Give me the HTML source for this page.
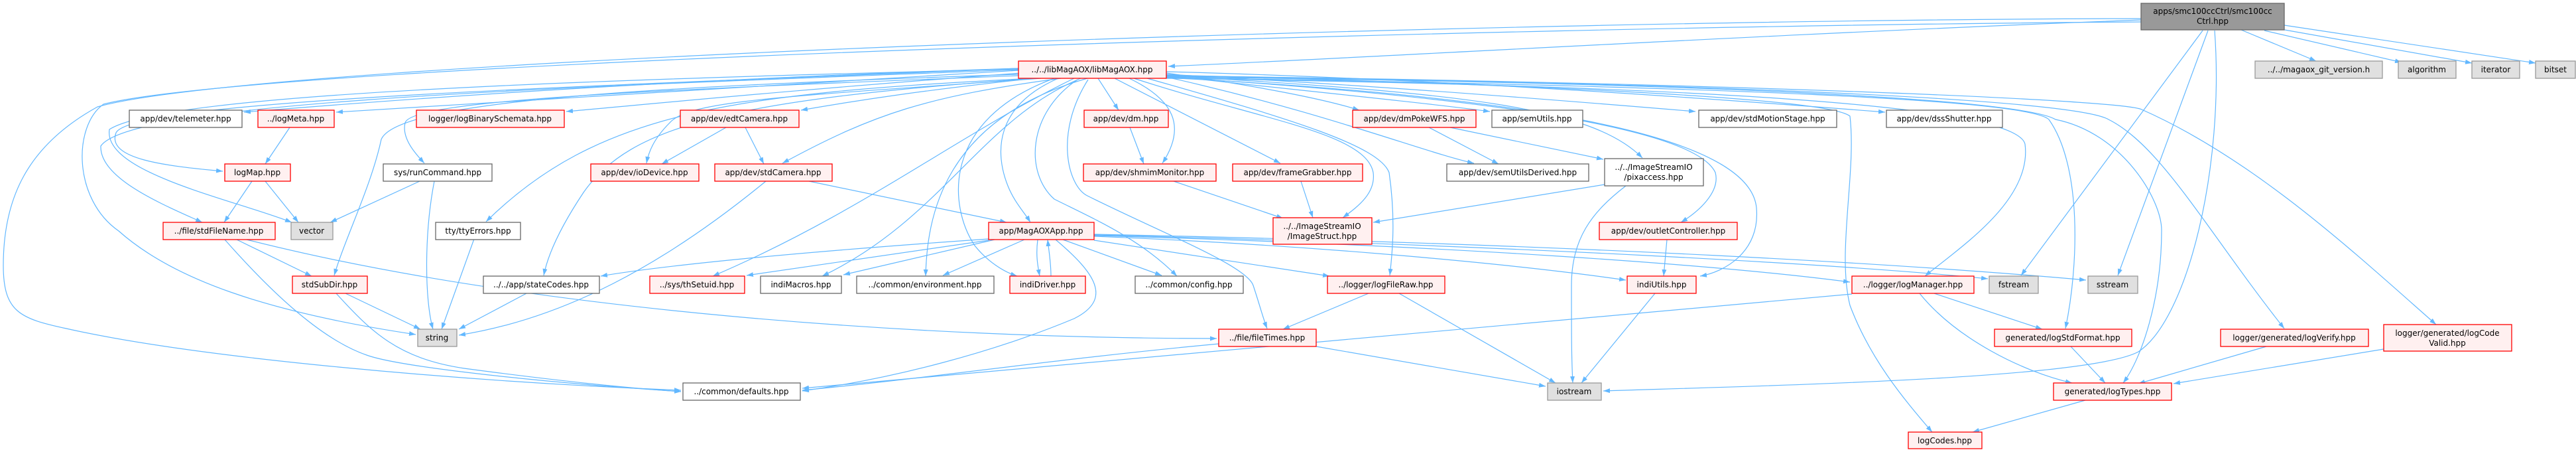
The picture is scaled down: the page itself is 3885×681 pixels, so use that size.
<!DOCTYPE html>
<html><head><meta charset="utf-8"><style>
html,body{margin:0;padding:0;background:#fff;}
svg{display:block}
text{font-family:"DejaVu Sans","Liberation Sans",sans-serif;font-size:12px;fill:#000;text-anchor:middle}
.r{fill:#fff0f0;stroke:#ff0000;stroke-width:1.3}
.w{fill:#fff;stroke:#666;stroke-width:1.3}
.g{fill:#e0e0e0;stroke:#999;stroke-width:1.3}
.t{fill:#999;stroke:#666;stroke-width:1.3}
.e path{fill:none;stroke:#63b8ff;stroke-width:1.2;marker-end:url(#a)}
</style></head><body>
<svg width="3885" height="681" viewBox="0 0 3885 681" xmlns="http://www.w3.org/2000/svg">
<defs><marker id="a" viewBox="0 0 10 7" refX="10" refY="3.5" markerWidth="10" markerHeight="7" markerUnits="userSpaceOnUse" orient="auto"><path d="M0,0 L10,3.5 L0,7 z" fill="#63b8ff"/></marker></defs>
<g class="e">
<path d="M3229,30 C2700,50 2100,85 1762,100"/>
<path d="M3380,45 L3493,92"/>
<path d="M3415,46 L3622,94"/>
<path d="M3440,44 L3728,95"/>
<path d="M3445,38 L3824,95"/>
<path d="M3322,46 L3048,415"/>
<path d="M3330,46 L3194,415"/>
<path d="M3340,46 C3355,250 3300,480 3225,530 C3150,570 2700,580 2418,589"/>
<path d="M3229,28 C2200,30 400,90 147,161 C40,220 5,300 5,400 C5,470 30,480 100,495 C300,540 700,575 1027,588"/>
<path d="M3229,33 C2200,40 400,95 156,157 C110,190 110,300 179,348 C260,420 400,470 627,504"/>
<path d="M1536,103 C1000,120 600,150 368,169"/>
<path d="M1536,106 C1100,130 800,150 507,169"/>
<path d="M1540,110 C1200,135 1000,155 854,168"/>
<path d="M1560,118 C1400,135 1300,150 1208,166"/>
<path d="M1656,118 L1687,166"/>
<path d="M1759,110 C1900,130 2000,150 2050,166"/>
<path d="M1759,114 C1950,135 2150,155 2247,168"/>
<path d="M1759,112 C2100,130 2400,155 2557,168"/>
<path d="M1759,108 C2200,120 2600,150 2843,169"/>
<path d="M1536,103 C900,130 200,150 175,200 C160,240 250,250 336,258"/>
<path d="M1536,104 C900,120 250,140 165,195 C155,260 350,300 440,335"/>
<path d="M1536,105 C900,130 200,150 152,220 C150,270 250,310 305,335"/>
<path d="M1536,112 C1000,130 600,150 575,210 C560,280 520,360 504,415"/>
<path d="M1536,114 C1000,135 620,150 611,185 C605,210 630,235 640,246"/>
<path d="M1560,118 C1100,140 900,170 733,334"/>
<path d="M1565,118 C1100,150 950,190 880,290 C840,350 825,390 820,415"/>
<path d="M1570,118 C1200,145 1040,150 1010,185 C985,210 978,230 975,246"/>
<path d="M1600,118 C1400,145 1320,170 1180,246"/>
<path d="M1620,118 C1450,200 1300,320 1075,416"/>
<path d="M1630,118 C1480,180 1420,330 1240,416"/>
<path d="M1640,118 C1420,180 1398,330 1396,416"/>
<path d="M1596,118 C1500,160 1500,230 1520,280 C1530,305 1545,320 1554,335"/>
<path d="M1590,118 C1420,180 1430,310 1470,370 C1490,395 1515,410 1534,416"/>
<path d="M1625,120 C1550,170 1545,260 1590,300 C1650,330 1720,360 1775,416"/>
<path d="M1641,120 C1590,200 1610,280 1640,295 C1750,350 1880,400 1890,430 C1900,460 1905,480 1911,495"/>
<path d="M1703,118 C1770,150 1790,190 1753,246"/>
<path d="M1681,118 L1931,246"/>
<path d="M1710,118 C1900,180 2060,200 2071,260 C2075,290 2050,310 2025,328"/>
<path d="M1730,118 C1950,180 2080,220 2095,260 C2105,330 2100,380 2096,415"/>
<path d="M1759,116 C2000,170 2150,230 2223,246"/>
<path d="M1759,114 C2200,140 2400,160 2477,238"/>
<path d="M1759,116 C2300,150 2560,200 2587,260 C2595,290 2560,320 2535,335"/>
<path d="M1759,117 C2400,150 2640,220 2649,313 C2655,380 2600,410 2564,416"/>
<path d="M1759,118 C2600,130 3040,160 3054,217 C3065,300 2960,370 2903,416"/>
<path d="M1759,117 C2600,130 3060,150 3090,180 C3140,250 3135,400 3115,495"/>
<path d="M1759,116 C2600,125 3050,150 3100,180 C3200,200 3260,300 3260,347 C3260,450 3230,540 3202,577"/>
<path d="M1759,115 C2600,125 3130,150 3180,180 C3260,220 3330,350 3445,495"/>
<path d="M1759,114 C2600,125 3200,150 3230,165 C3400,240 3550,380 3674,489"/>
<path d="M1759,113 C2400,130 2760,150 2790,175 C2800,260 2770,380 2790,460 C2820,540 2870,600 2914,651"/>
<path d="M1220,273 C1350,300 1450,320 1518,335"/>
<path d="M1155,273 C1000,400 850,480 692,505"/>
<path d="M1095,192 L998,247"/>
<path d="M1124,192 L1152,247"/>
<path d="M437,192 L400,247"/>
<path d="M380,273 L338,335"/>
<path d="M400,273 L450,335"/>
<path d="M633,273 L498,335"/>
<path d="M655,273 C640,350 640,450 653,496"/>
<path d="M715,360 L666,496"/>
<path d="M355,360 L470,416"/>
<path d="M339,361 C400,430 480,510 553,535 C600,552 800,575 1027,590"/>
<path d="M368,360 C800,470 1400,510 1835,510"/>
<path d="M521,442 L634,496"/>
<path d="M507,442 C560,500 600,540 700,555 C850,575 950,585 1027,590"/>
<path d="M794,442 L692,496"/>
<path d="M1704,192 L1725,247"/>
<path d="M1770,273 L1935,329"/>
<path d="M1962,273 L1980,328"/>
<path d="M2155,192 L2260,247"/>
<path d="M2187,192 L2418,240"/>
<path d="M2420,278 L2071,335"/>
<path d="M2452,280 C2400,320 2370,360 2370,430 C2370,500 2370,540 2372,577"/>
<path d="M2514,361 L2509,416"/>
<path d="M2496,442 L2385,577"/>
<path d="M2110,442 L2346,577"/>
<path d="M2064,442 L1935,496"/>
<path d="M1985,522 L2331,582"/>
<path d="M1838,518 C1600,540 1400,570 1210,588"/>
<path d="M1592,361 C1650,410 1680,450 1620,480 C1500,530 1350,570 1210,589"/>
<path d="M1491,360 C1200,380 1000,400 906,416"/>
<path d="M1491,362 L1126,415"/>
<path d="M1500,361 L1272,414"/>
<path d="M1545,361 L1422,415"/>
<path d="M1565,361 C1562,385 1565,400 1568,416"/>
<path d="M1585,416 C1585,395 1582,380 1580,361"/>
<path d="M1603,361 L1752,415"/>
<path d="M1650,362 L2005,416"/>
<path d="M1650,356 C2000,370 2300,400 2452,422"/>
<path d="M1650,355 C2200,370 2600,400 2790,425"/>
<path d="M1650,354 C2300,370 2800,400 2998,420"/>
<path d="M1650,353 C2400,368 2900,400 3146,422"/>
<path d="M2917,442 L3080,496"/>
<path d="M2895,442 C2950,510 3050,560 3125,577"/>
<path d="M2793,443 C2400,480 1700,540 1210,585"/>
<path d="M3123,522 L3175,577"/>
<path d="M3418,522 L3225,578"/>
<path d="M3595,526 L3278,578"/>
<path d="M3145,603 L2975,651"/>
</g>
<!-- nodes -->
<rect class="t" x="3229" y="5" width="216" height="40"/><text x="3337" y="21">apps/smc100ccCtrl/smc100cc</text><text x="3337" y="36">Ctrl.hpp</text>
<rect class="r" x="1536" y="92" width="223" height="26"/><text x="1647" y="109">../../libMagAOX/libMagAOX.hpp</text>
<rect class="g" x="3401" y="92" width="192" height="26"/><text x="3497" y="109">../../magaox_git_version.h</text>
<rect class="g" x="3617" y="92" width="87" height="26"/><text x="3660" y="109">algorithm</text>
<rect class="g" x="3728" y="92" width="72" height="26"/><text x="3764" y="109">iterator</text>
<rect class="g" x="3824" y="92" width="60" height="26"/><text x="3854" y="109">bitset</text>

<rect class="w" x="195" y="166" width="170" height="26"/><text x="280" y="183">app/dev/telemeter.hpp</text>
<rect class="r" x="389" y="166" width="115" height="26"/><text x="446" y="183">../logMeta.hpp</text>
<rect class="r" x="628" y="166" width="223" height="26"/><text x="739" y="183">logger/logBinarySchemata.hpp</text>
<rect class="r" x="1026" y="166" width="179" height="26"/><text x="1115" y="183">app/dev/edtCamera.hpp</text>
<rect class="r" x="1635" y="166" width="127" height="26"/><text x="1698" y="183">app/dev/dm.hpp</text>
<rect class="r" x="2040" y="166" width="186" height="26"/><text x="2133" y="183">app/dev/dmPokeWFS.hpp</text>
<rect class="w" x="2250" y="166" width="137" height="26"/><text x="2318" y="183">app/semUtils.hpp</text>
<rect class="w" x="2562" y="166" width="208" height="26"/><text x="2666" y="183">app/dev/stdMotionStage.hpp</text>
<rect class="w" x="2845" y="166" width="175" height="26"/><text x="2932" y="183">app/dev/dssShutter.hpp</text>

<rect class="r" x="339" y="247" width="99" height="26"/><text x="388" y="264">logMap.hpp</text>
<rect class="w" x="578" y="247" width="164" height="26"/><text x="660" y="264">sys/runCommand.hpp</text>
<rect class="r" x="891" y="247" width="163" height="26"/><text x="972" y="264">app/dev/ioDevice.hpp</text>
<rect class="r" x="1078" y="247" width="177" height="26"/><text x="1166" y="264">app/dev/stdCamera.hpp</text>
<rect class="r" x="1634" y="247" width="200" height="26"/><text x="1734" y="264">app/dev/shmimMonitor.hpp</text>
<rect class="r" x="1859" y="247" width="196" height="26"/><text x="1957" y="264">app/dev/frameGrabber.hpp</text>
<rect class="w" x="2182" y="247" width="214" height="26"/><text x="2289" y="264">app/dev/semUtilsDerived.hpp</text>
<rect class="w" x="2420" y="239" width="149" height="41"/><text x="2494" y="256">../../ImageStreamIO</text><text x="2494" y="271">/pixaccess.hpp</text>

<rect class="r" x="246" y="335" width="169" height="26"/><text x="330" y="352">../file/stdFileName.hpp</text>
<rect class="g" x="439" y="335" width="63" height="26"/><text x="470" y="352">vector</text>
<rect class="w" x="657" y="335" width="128" height="26"/><text x="721" y="352">tty/ttyErrors.hpp</text>
<rect class="r" x="1491" y="335" width="159" height="26"/><text x="1570" y="352">app/MagAOXApp.hpp</text>
<rect class="r" x="1920" y="328" width="149" height="40"/><text x="1994" y="345">../../ImageStreamIO</text><text x="1994" y="360">/ImageStruct.hpp</text>
<rect class="r" x="2412" y="335" width="208" height="26"/><text x="2516" y="352">app/dev/outletController.hpp</text>

<rect class="r" x="441" y="416" width="113" height="26"/><text x="497" y="433">stdSubDir.hpp</text>
<rect class="w" x="729" y="416" width="175" height="26"/><text x="816" y="433">../../app/stateCodes.hpp</text>
<rect class="r" x="980" y="416" width="143" height="26"/><text x="1051" y="433">../sys/thSetuid.hpp</text>
<rect class="w" x="1147" y="416" width="122" height="26"/><text x="1208" y="433">indiMacros.hpp</text>
<rect class="w" x="1292" y="416" width="207" height="26"/><text x="1395" y="433">../common/environment.hpp</text>
<rect class="r" x="1523" y="416" width="114" height="26"/><text x="1580" y="433">indiDriver.hpp</text>
<rect class="w" x="1712" y="416" width="163" height="26"/><text x="1793" y="433">../common/config.hpp</text>
<rect class="r" x="2002" y="416" width="177" height="26"/><text x="2090" y="433">../logger/logFileRaw.hpp</text>
<rect class="r" x="2454" y="416" width="104" height="26"/><text x="2506" y="433">indiUtils.hpp</text>
<rect class="r" x="2793" y="416" width="184" height="26"/><text x="2885" y="433">../logger/logManager.hpp</text>
<rect class="g" x="3000" y="416" width="74" height="26"/><text x="3037" y="433">fstream</text>
<rect class="g" x="3149" y="416" width="75" height="26"/><text x="3186" y="433">sstream</text>

<rect class="g" x="630" y="496" width="59" height="26"/><text x="659" y="513">string</text>
<rect class="r" x="1838" y="496" width="147" height="26"/><text x="1911" y="513">../file/fileTimes.hpp</text>
<rect class="r" x="3008" y="496" width="207" height="26"/><text x="3111" y="513">generated/logStdFormat.hpp</text>
<rect class="r" x="3349" y="496" width="223" height="26"/><text x="3460" y="513">logger/generated/logVerify.hpp</text>
<rect class="r" x="3595" y="489" width="193" height="40"/><text x="3691" y="506">logger/generated/logCode</text><text x="3691" y="521">Valid.hpp</text>

<rect class="w" x="1030" y="577" width="177" height="26"/><text x="1118" y="594">../common/defaults.hpp</text>
<rect class="g" x="2334" y="577" width="81" height="26"/><text x="2374" y="594">iostream</text>
<rect class="r" x="3097" y="577" width="178" height="26"/><text x="3186" y="594">generated/logTypes.hpp</text>
<rect class="r" x="2878" y="651" width="111" height="25"/><text x="2933" y="668">logCodes.hpp</text>
</svg>
</body></html>
